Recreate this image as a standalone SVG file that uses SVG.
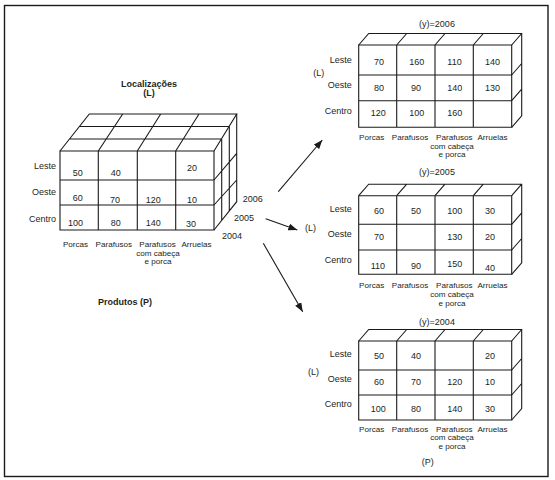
<svg xmlns="http://www.w3.org/2000/svg" width="555" height="480" viewBox="0 0 555 480">
<defs>
<style>
.ln{fill:none;stroke:#1a1a1a;stroke-width:1.1;stroke-linejoin:miter}
.t{font-family:"Liberation Sans",Arial,sans-serif;font-size:9px;fill:#231f20}
.c{font-family:"Liberation Sans",Arial,sans-serif;font-size:8.1px;fill:#231f20;text-anchor:middle}
.e{text-anchor:end}
.m{text-anchor:middle}
.b{font-family:"Liberation Sans",Arial,sans-serif;font-size:9px;font-weight:bold;fill:#231f20;text-anchor:middle}
.ar{fill:none;stroke:#1a1a1a;stroke-width:1.1}
</style>
<marker id="ah" markerUnits="userSpaceOnUse" markerWidth="10" markerHeight="8" refX="9" refY="3.5" orient="auto">
<path d="M0,0 L9,3.5 L0,7 Z" fill="#1a1a1a"/>
</marker>
</defs>
<rect x="0" y="0" width="555" height="480" fill="#fff"/>
<rect x="4.5" y="5.5" width="543.5" height="471" fill="none" stroke="#1a1a1a" stroke-width="1.4"/>

<g id="cube-main">
<path class="ln" d="M60,151H214V230H60Z M98.3,151V230 M137.3,151V230 M175.7,151V230 M60,180H214 M60,205H214"/>
<path class="ln" d="M60,151L89.3,114H236.7L214,151 M69.5,139H221.7 M79.5,126.5H229.3 M98.3,151L122.7,114 M137.3,151L160.7,114 M175.7,151L199,114"/>
<path class="ln" d="M236.7,114V201.7L214,230 M221.7,139V220.4 M229.3,126.5V210.9 M214,180L236.7,153.3 M214,205L236.7,180"/>
<text class="b" x="149" y="87">Localizações</text>
<text class="b" x="149" y="96">(L)</text>
<text class="t e" x="56" y="169">Leste</text>
<text class="t e" x="56" y="195">Oeste</text>
<text class="t e" x="56" y="221.7">Centro</text>
<text class="t" x="72.7" y="176">50</text>
<text class="t" x="110.7" y="176">40</text>
<text class="t" x="187" y="171">20</text>
<text class="t" x="72.7" y="200.7">60</text>
<text class="t" x="110" y="202.7">70</text>
<text class="t" x="145.7" y="202.7">120</text>
<text class="t" x="187" y="202.7">10</text>
<text class="t" x="68" y="225.7">100</text>
<text class="t" x="110.7" y="225.7">80</text>
<text class="t" x="145.7" y="225.7">140</text>
<text class="t" x="186" y="227">30</text>
<text class="t" x="242.7" y="202">2006</text>
<text class="t" x="234" y="220.7">2005</text>
<text class="t" x="222" y="239">2004</text>
<text class="c" x="75.5" y="246.7">Porcas</text>
<text class="c" x="113.8" y="246.7">Parafusos</text>
<text class="c" x="157.5" y="246.7">Parafusos</text>
<text class="c" x="196.5" y="246.7">Arruelas</text>
<text class="c" x="158" y="255.5">com cabeça</text>
<text class="c" x="158" y="264.2">e porca</text>
<text class="b" x="125" y="305">Produtos (P)</text>
</g>

<g id="cube-2006">
<path class="ln" d="M358.7,45H511.7V127.3H358.7Z M396.7,45V127.3 M435,45V127.3 M473.3,45V127.3 M358.7,75H511.7 M358.7,100.7H511.7"/>
<path class="ln" d="M358.7,45l10,-11.5H521.7V115.8l-10,11.5 M396.7,45l10,-11.5 M435,45l10,-11.5 M473.3,45l10,-11.5 M511.7,45l10,-11.5 M511.7,75l10,-11.5 M511.7,100.7l10,-11.5"/>
<text class="t m" x="437" y="26.7">(y)=2006</text>
<text class="t" x="313.3" y="76">(L)</text>
<text class="t e" x="351.7" y="63.3">Leste</text>
<text class="t e" x="351.7" y="88.3">Oeste</text>
<text class="t e" x="351.7" y="114">Centro</text>
<text class="t" x="374" y="65">70</text>
<text class="t" x="409.3" y="65">160</text>
<text class="t" x="447.3" y="65">110</text>
<text class="t" x="485" y="65">140</text>
<text class="t" x="374" y="90.7">80</text>
<text class="t" x="411" y="90.7">90</text>
<text class="t" x="447.3" y="90.7">140</text>
<text class="t" x="485" y="90.7">130</text>
<text class="t" x="370.7" y="116">120</text>
<text class="t" x="409.3" y="116">100</text>
<text class="t" x="447.3" y="116">160</text>
<text class="c" x="371.7" y="140">Porcas</text>
<text class="c" x="410" y="140">Parafusos</text>
<text class="c" x="454.3" y="140">Parafusos</text>
<text class="c" x="492.5" y="140">Arruelas</text>
<text class="c" x="452" y="148.6">com cabeça</text>
<text class="c" x="452" y="157.2">e porca</text>
</g>

<g id="cube-2005">
<path class="ln" d="M358.7,195.7H511.7V274.3H358.7Z M396.7,195.7V274.3 M435,195.7V274.3 M473.3,195.7V274.3 M358.7,224.3H511.7 M358.7,250H511.7"/>
<path class="ln" d="M358.7,195.7l10,-11.5H521.7V262.8l-10,11.5 M396.7,195.7l10,-11.5 M435,195.7l10,-11.5 M473.3,195.7l10,-11.5 M511.7,195.7l10,-11.5 M511.7,224.3l10,-11.5 M511.7,250l10,-11.5"/>
<text class="t m" x="437" y="175">(y)=2005</text>
<text class="t" x="305" y="231">(L)</text>
<text class="t e" x="351.7" y="211.7">Leste</text>
<text class="t e" x="351.7" y="237.3">Oeste</text>
<text class="t e" x="351.7" y="263.3">Centro</text>
<text class="t" x="374" y="214">60</text>
<text class="t" x="411" y="214">50</text>
<text class="t" x="447.3" y="214">100</text>
<text class="t" x="485" y="214">30</text>
<text class="t" x="374" y="240">70</text>
<text class="t" x="447.3" y="240">130</text>
<text class="t" x="485" y="240">20</text>
<text class="t" x="370.7" y="269">110</text>
<text class="t" x="411" y="269">90</text>
<text class="t" x="447.3" y="267.3">150</text>
<text class="t" x="485" y="270.7">40</text>
<text class="c" x="371.7" y="288.3">Porcas</text>
<text class="c" x="410" y="288.3">Parafusos</text>
<text class="c" x="454.3" y="288.3">Parafusos</text>
<text class="c" x="492.5" y="288.3">Arruelas</text>
<text class="c" x="452" y="296.9">com cabeça</text>
<text class="c" x="452" y="305.5">e porca</text>
</g>

<g id="cube-2004">
<path class="ln" d="M358.7,341H511.7V420H358.7Z M396.7,341V420 M435,341V420 M473.3,341V420 M358.7,370H511.7 M358.7,395H511.7"/>
<path class="ln" d="M358.7,341l10,-11.5H521.7V408.5l-10,11.5 M396.7,341l10,-11.5 M435,341l10,-11.5 M473.3,341l10,-11.5 M511.7,341l10,-11.5 M511.7,370l10,-11.5 M511.7,395l10,-11.5"/>
<text class="t m" x="437" y="325">(y)=2004</text>
<text class="t" x="308" y="375">(L)</text>
<text class="t e" x="351.7" y="356.7">Leste</text>
<text class="t e" x="351.7" y="381.7">Oeste</text>
<text class="t e" x="351.7" y="407.3">Centro</text>
<text class="t" x="374" y="359.3">50</text>
<text class="t" x="411" y="359.3">40</text>
<text class="t" x="485" y="359.3">20</text>
<text class="t" x="374" y="385">60</text>
<text class="t" x="411" y="385">70</text>
<text class="t" x="447.3" y="385">120</text>
<text class="t" x="485" y="385">10</text>
<text class="t" x="370.7" y="411.7">100</text>
<text class="t" x="411" y="411.7">80</text>
<text class="t" x="447.3" y="411.7">140</text>
<text class="t" x="485" y="411.7">30</text>
<text class="c" x="371.7" y="431.7">Porcas</text>
<text class="c" x="410" y="431.7">Parafusos</text>
<text class="c" x="454.3" y="431.7">Parafusos</text>
<text class="c" x="492.5" y="431.7">Arruelas</text>
<text class="c" x="452" y="440.3">com cabeça</text>
<text class="c" x="452" y="448.9">e porca</text>
<text class="t m" x="427.7" y="465">(P)</text>
</g>

<g id="connectors">
<line class="ar" x1="278.3" y1="191.7" x2="322.3" y2="140" marker-end="url(#ah)"/>
<line class="ar" x1="265.7" y1="218.7" x2="297.3" y2="230" marker-end="url(#ah)"/>
<line class="ar" x1="263.3" y1="243.3" x2="302.7" y2="311.7" marker-end="url(#ah)"/>
</g>
</svg>
